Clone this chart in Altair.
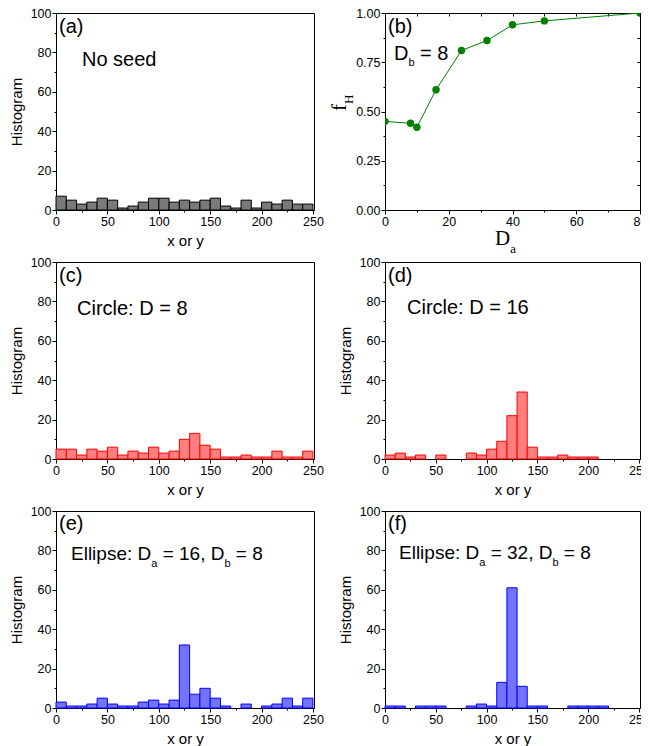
import altair as alt
import pandas as pd

# ---------------- data ----------------
bin_starts = list(range(0, 250, 10))
counts_a = [7, 5, 3, 4, 6, 5, 1, 2, 4, 6, 6, 4, 5, 4, 5, 6, 2, 1, 5, 1, 4, 3, 5, 3, 3]
counts_c = [5, 5, 2, 5, 4, 6, 2, 4, 3, 6, 3, 4, 10, 13, 7, 5, 1, 1, 2, 1, 1, 4, 1, 1, 4]
counts_d = [2, 3, 1, 2, 0, 2, 0, 0, 3, 2, 5, 9, 22, 34, 6, 1, 1, 2, 1, 1, 1, 0, 0, 0, 0]
counts_e = [3, 1, 1, 2, 5, 2, 1, 1, 3, 4, 2, 4, 32, 7, 10, 5, 1, 0, 2, 0, 1, 2, 5, 1, 5]
counts_f = [1, 1, 0, 1, 1, 1, 0, 0, 1, 2, 1, 13, 61, 11, 1, 1, 0, 0, 1, 1, 1, 1, 0, 0, 0]

da_values = [0, 8, 10, 16, 24, 32, 40, 50, 80]
fh_values = [0.45, 0.44, 0.42, 0.61, 0.81, 0.86, 0.94, 0.96, 1.00]

# ---------------- style ----------------
SANS = "Liberation Sans"
SERIF = "Liberation Serif"
PW_L, PW_R, PH = 258, 255, 197
GREEN = "#008000"

CHAR_W = {
    " ": 0.278, "E": 0.667, "l": 0.222, "i": 0.222, "p": 0.556, "s": 0.5,
    "e": 0.556, ":": 0.278, "D": 0.722, "=": 0.584, ",": 0.278, "C": 0.722,
    "r": 0.333, "c": 0.5, "N": 0.722, "o": 0.556, "d": 0.556, "(": 0.333,
    ")": 0.333, "a": 0.556, "b": 0.556, "f": 0.278,
}


def text_width(s, size):
    return sum(CHAR_W.get(ch, 0.556) for ch in s) * size


def text_layers(pieces, x0, y0, font=SANS):
    """pieces: list of (text, fontSize, baseline shift)."""
    layers = []
    x = x0
    for txt, size, dy in pieces:
        lead = len(txt) - len(txt.lstrip(" "))
        trail = len(txt) - len(txt.rstrip(" "))
        core = txt.strip(" ")
        x += lead * CHAR_W[" "] * size
        layers.append(
            alt.Chart(alt.Data(values=[{}]))
            .mark_text(text=core, font=font, fontSize=size, align="left",
                       baseline="alphabetic", color="black")
            .encode(x=alt.value(x), y=alt.value(y0 + dy))
        )
        x += text_width(core, size) + trail * CHAR_W[" "] * size
    return layers


def tick_cond(major, big=4, small=2):
    return {"condition": {"test": f"abs(datum.value / {major} - round(datum.value / {major})) < 1e-6",
                          "value": big}, "value": small}


def label_expr(major):
    return f"abs(datum.value / {major} - round(datum.value / {major})) < 1e-6 ? datum.label : ''"


hist_x_axis = alt.Axis(values=list(range(0, 251, 25)), labelExpr=label_expr(50),
                       tickSize=tick_cond(50), title="x or y", labelPadding=1,
                       titlePadding=6, labelFlush=False, labelOverlap=False, format="d")
hist_y_axis = alt.Axis(values=list(range(0, 101, 10)), labelExpr=label_expr(20),
                       tickSize=tick_cond(20), title="Histogram", labelPadding=1,
                       titlePadding=6, labelOverlap=False, format="d")


def hist_panel(counts, stroke, fill, annots, width):
    df = pd.DataFrame({"start": bin_starts,
                       "end": [s + 10 for s in bin_starts],
                       "count": counts,
                       "base": [0] * len(bin_starts)})
    df = df[df["count"] > 0]
    bars = alt.Chart(df).mark_rect(fill=fill, stroke=stroke, strokeWidth=1).encode(
        x=alt.X("start:Q", scale=alt.Scale(domain=[0, 251], nice=False, zero=False), axis=hist_x_axis),
        x2="end:Q",
        y=alt.Y("count:Q", scale=alt.Scale(domain=[0, 100], nice=False), axis=hist_y_axis),
        y2="base:Q",
    )
    layers = [bars]
    for pieces, x0, y0 in annots:
        layers += text_layers(pieces, x0, y0)
    return alt.layer(*layers).properties(width=width, height=PH)


panel_a = hist_panel(counts_a, "black", "#7a7a7a", [
    ([("(a)", 20, 0)], 3, 20),
    ([("No seed", 20, 0)], 26, 53),
], PW_L)
panel_c = hist_panel(counts_c, "#ff0000", "#ff7f7f", [
    ([("(c)", 20, 0)], 3, 20),
    ([("Circle: D = 8", 20, 0)], 21, 53),
], PW_L)
panel_d = hist_panel(counts_d, "#ff0000", "#ff7f7f", [
    ([("(d)", 20, 0)], 3, 20),
    ([("Circle: D = 16", 20, 0)], 22, 52),
], PW_R)
panel_e = hist_panel(counts_e, "#0000ff", "#7373ff", [
    ([("(e)", 20, 0)], 3, 19),
    ([("Ellipse: D", 19, 0), ("a", 11, 7), (" = 16, D", 19, 0), ("b", 11, 7), (" = 8", 19, 0)], 15, 49),
], PW_L)
panel_f = hist_panel(counts_f, "#0000ff", "#7373ff", [
    ([("(f)", 20, 0)], 3, 19),
    ([("Ellipse: D", 19, 0), ("a", 11, 7), (" = 32, D", 19, 0), ("b", 11, 7), (" = 8", 19, 0)], 14, 48),
], PW_R)

# ---------------- panel (b) ----------------
dfb = pd.DataFrame({"da": da_values, "fh": fh_values})
xb = alt.Scale(domain=[0, 80], nice=False, zero=False)
yb = alt.Scale(domain=[0, 1], nice=False)

b_line = alt.Chart(dfb).mark_line(color=GREEN, strokeWidth=1, clip=True).encode(
    x=alt.X("da:Q", scale=xb, axis=alt.Axis(values=list(range(0, 81, 10)), labelExpr=label_expr(20),
                                            tickSize=tick_cond(20), title=None, labelPadding=1,
                                            labelFlush=False, labelOverlap=False, format="d")),
    y=alt.Y("fh:Q", scale=yb, axis=alt.Axis(values=[i * 0.125 for i in range(9)], labelExpr=label_expr(0.25),
                                            tickSize=tick_cond(0.25), title=None, labelPadding=1,
                                            labelOverlap=False, format=".2f")),
)
b_pts = alt.Chart(dfb).mark_circle(color=GREEN, size=55, opacity=1, clip=True).encode(
    x=alt.X("da:Q", scale=xb, axis=None),
    y=alt.Y("fh:Q", scale=yb, axis=None),
)
b_mirror = alt.Chart(dfb).mark_point(opacity=0).encode(
    x=alt.X("da:Q", scale=xb, axis=alt.Axis(orient="top", values=list(range(0, 81, 10)), labels=False,
                                            tickSize=3, offset=-3, domain=False, title=None)),
    y=alt.Y("fh:Q", scale=yb, axis=alt.Axis(orient="right", values=[i * 0.125 for i in range(9)], labels=False,
                                            tickSize=3, offset=-3, domain=False, title=None)),
)
b_layers = [b_line, b_pts, b_mirror]
b_layers += text_layers([("(b)", 20, 0)], 3, 20)
b_layers += text_layers([("D", 20, 0), ("b", 11, 6), (" = 8", 20, 0)], 9, 47)
# axis titles with subscripts (serif)
b_layers += text_layers([("D", 21, 0), ("a", 13, 8)], 110, PH + 35, font=SERIF)
b_layers.append(
    alt.Chart(alt.Data(values=[{}])).mark_text(text="f", font=SERIF, fontSize=21, angle=270, align="left",
                                               baseline="alphabetic", color="black")
    .encode(x=alt.value(-39), y=alt.value(98))
)
b_layers.append(
    alt.Chart(alt.Data(values=[{}])).mark_text(text="H", font=SERIF, fontSize=13, angle=270, align="left",
                                               baseline="alphabetic", color="black")
    .encode(x=alt.value(-32), y=alt.value(91))
)
panel_b = alt.layer(*b_layers).resolve_axis(x="independent", y="independent").properties(width=PW_R, height=PH)

chart = (
    alt.concat(panel_a, panel_b, panel_c, panel_d, panel_e, panel_f, columns=2,
               spacing={"row": 52, "column": 71}, bounds="flush")
    .properties(padding={"left": 0, "top": -2, "right": -9, "bottom": 0})
    .configure_view(stroke="black", strokeWidth=1)
    .configure_axis(labelFont=SANS, labelFontSize=12.5, titleFont=SANS, titleFontSize=15,
                    titleFontWeight="normal", labelColor="black", titleColor="black",
                    domainColor="black", tickColor="black", grid=False, domainWidth=1, tickWidth=1)
)

chart.save("out.html", embed_options={"renderer": "svg", "actions": False})
